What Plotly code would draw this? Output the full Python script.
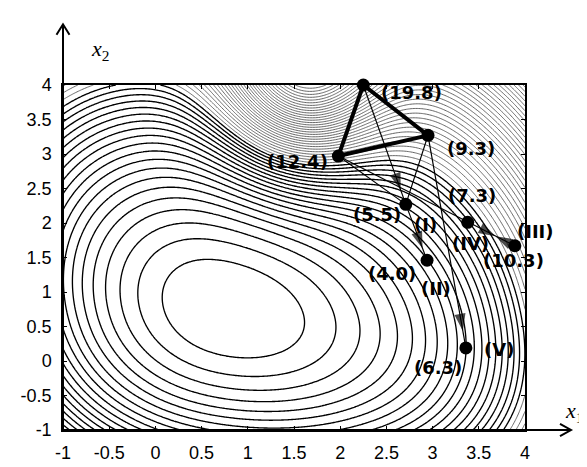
import numpy as np
import plotly.graph_objects as go

# ---------------- data ----------------
point_keys   = ["19.8", "12.4", "9.3", "5.5", "7.3", "10.3", "4.0", "6.3"]
point_x      = [2.25, 1.98, 2.95, 2.71, 3.38, 3.89, 2.94, 3.36]
point_y      = [4.00, 2.97, 3.27, 2.27, 2.01, 1.67, 1.46, 0.19]
point_labels = ["(19.8)", "(12.4)", "(9.3)", "(5.5)", "(7.3)", "(10.3)", "(4.0)", "(6.3)"]

simplex_thick = ["19.8", "12.4", "9.3", "19.8"]
thin_paths = [["19.8", "5.5"], ["12.4", "5.5"], ["9.3", "5.5"],
              ["12.4", "7.3", "10.3"], ["5.5", "4.0"], ["9.3", "6.3"]]
arrow_from = ["19.8", "5.5", "9.3", "7.3", "10.3"]
arrow_to   = ["5.5", "4.0", "6.3", "10.3", "7.3"]
arrow_frac = [0.88, 0.79, 0.92, 0.59, 0.41]

roman_text  = ["(I)", "(II)", "(III)", "(IV)", "(V)"]
roman_point = ["5.5", "4.0", "10.3", "7.3", "6.3"]

x_tickvals = [-1, -0.5, 0, 0.5, 1, 1.5, 2, 2.5, 3, 3.5, 4]
x_ticktext = ["-1", "-0.5", "0", "0.5", "1", "1.5", "2", "2.5", "3", "3.5", "4"]
y_tickvals = [-1, -0.5, 0, 0.5, 1, 1.5, 2, 2.5, 3, 3.5, 4]
y_ticktext = ["-1", "-0.5", "0", "0.5", "1", "1.5", "2", "2.5", "3", "3.5", "4"]

contour_step = 0.5
low_levels = (0.5, 10.0)     # drawn as solid black lines
high_levels = (10.5, 80.0)   # drawn lighter (scanned hatching look)

# objective-function parameters
CX, CY = 0.8, 0.75
AX, AY, AXY = 0.8, 0.95, 0.45
KL, KR, DR, KB = 0.275, 0.47, 1.5, 0.17
H, BX, BY, SX, SY = 14.0, 1.6, 4.2, 0.6, 0.9


def objective(u, v):
    dx = u - CX
    dy = v - CY
    base = AX * dx**2 + AY * dy**2 + AXY * dx * dy
    left = KL * np.maximum(-dx, 0) ** 3
    right = KR * np.maximum(dx - DR, 0) ** 3
    below = KB * np.maximum(-dy, 0) ** 3
    bump = H * np.exp(-(u - BX) ** 2 / (2 * SX**2) - (v - BY) ** 2 / (2 * SY**2))
    return base + left + right + below + bump


# ---------------- style ----------------
W_PX, H_PX = 587, 467
M_L, M_R, M_T, M_B = 55, 70, 77, 26
PLOT_W = W_PX - M_L - M_R
PLOT_H = H_PX - M_T - M_B

label_dx = {"19.8": 48, "12.4": -41, "9.3": 43, "5.5": -29, "7.3": 4,
            "10.3": -1, "4.0": -35, "6.3": -28}
label_dy = {"19.8": -7, "12.4": -5, "9.3": -13, "5.5": -10, "7.3": 27,
            "10.3": -15, "4.0": -13, "6.3": -20}
roman_dx = [20, 9, 21, 3, 33]
roman_dy = [-20, -28, 14, -21, -2]

P = {k: (x, y) for k, x, y in zip(point_keys, point_x, point_y)}

xg = np.linspace(-1, 4, 301)
yg = np.linspace(-1, 4, 301)
XX, YY = np.meshgrid(xg, yg)
Z = objective(XX, YY)

fig = go.Figure()
fig.add_trace(go.Contour(
    x=xg, y=yg, z=Z,
    contours=dict(start=high_levels[0], end=high_levels[1], size=contour_step, coloring="lines"),
    line=dict(width=0.9),
    colorscale=[[0, "#555555"], [1, "#555555"]],
    showscale=False, hoverinfo="skip",
))
fig.add_trace(go.Contour(
    x=xg, y=yg, z=Z,
    contours=dict(start=low_levels[0], end=low_levels[1], size=contour_step, coloring="lines"),
    line=dict(width=1.35),
    colorscale=[[0, "black"], [1, "black"]],
    showscale=False, hoverinfo="skip",
))

for path in thin_paths:
    fig.add_trace(go.Scatter(
        x=[P[k][0] for k in path], y=[P[k][1] for k in path],
        mode="lines", line=dict(color="black", width=1.2),
        showlegend=False, hoverinfo="skip"))

fig.add_trace(go.Scatter(
    x=[P[k][0] for k in simplex_thick], y=[P[k][1] for k in simplex_thick],
    mode="lines", line=dict(color="black", width=4),
    showlegend=False, hoverinfo="skip"))

for a, b, f in zip(arrow_from, arrow_to, arrow_frac):
    x0, y0 = P[a]
    x1, y1 = P[b]
    xt, yt = x0 + f * (x1 - x0), y0 + f * (y1 - y0)
    fig.add_trace(go.Scatter(
        x=[x0, xt], y=[y0, yt], mode="markers",
        marker=dict(symbol="arrow", size=[0, 18], angleref="previous", color="black",
                    line=dict(width=0)),
        showlegend=False, hoverinfo="skip", cliponaxis=False))

fig.add_trace(go.Scatter(
    x=point_x, y=point_y, mode="markers",
    marker=dict(symbol="circle", size=13, color="black"),
    showlegend=False, hoverinfo="skip", cliponaxis=False))

label_font = dict(family="DejaVu Sans", size=18, color="black", weight="bold")
annotations = []
for k, t in zip(point_keys, point_labels):
    annotations.append(dict(x=P[k][0], y=P[k][1], xref="x", yref="y", text=t,
                            showarrow=False, xshift=label_dx[k], yshift=label_dy[k],
                            font=label_font))
for t, k, sx, sy in zip(roman_text, roman_point, roman_dx, roman_dy):
    annotations.append(dict(x=P[k][0], y=P[k][1], xref="x", yref="y", text=t,
                            showarrow=False, xshift=sx, yshift=sy, font=label_font))

axis_font = dict(family="Liberation Serif", size=22, color="black")
annotations.append(dict(x=0.056, y=1.148, xref="paper", yref="paper",
                        text="<i>x</i><sub>2</sub>", showarrow=False, font=axis_font))
annotations.append(dict(x=1.13, y=0.0, xref="paper", yref="paper",
                        text="<i>x</i><sub>1</sub>", showarrow=False, font=axis_font,
                        yshift=2))

# axis arrows (lines + open chevron heads), in paper units
x_tip = 1 + 46 / PLOT_W
y_tip = 1 + 64 / PLOT_H
arm_back, arm_side = 11, 6.5
shapes = [
    dict(type="line", xref="paper", yref="paper", x0=0, y0=0, x1=x_tip, y1=0,
         line=dict(color="black", width=2)),
    dict(type="line", xref="paper", yref="paper", x0=0, y0=0, x1=0, y1=y_tip,
         line=dict(color="black", width=2)),
    dict(type="path", xref="paper", yref="paper",
         path=(f"M{x_tip - arm_back / PLOT_W},{arm_side / PLOT_H} L{x_tip},0 "
               f"L{x_tip - arm_back / PLOT_W},{-arm_side / PLOT_H}"),
         line=dict(color="black", width=2)),
    dict(type="path", xref="paper", yref="paper",
         path=(f"M{-arm_side / PLOT_W},{y_tip - arm_back / PLOT_H} L0,{y_tip} "
               f"L{arm_side / PLOT_W},{y_tip - arm_back / PLOT_H}"),
         line=dict(color="black", width=2)),
]

tick_font = dict(family="Liberation Sans", size=18, color="black")
axis_common = dict(range=[-1, 4], showgrid=False, zeroline=False, showline=True,
                   mirror="allticks", linecolor="black", linewidth=1.5,
                   ticks="inside", ticklen=4, tickcolor="black", tickwidth=1,
                   tickfont=tick_font, ticklabelstandoff=6)

fig.update_layout(
    width=W_PX, height=H_PX,
    margin=dict(l=M_L, r=M_R, t=M_T, b=M_B),
    paper_bgcolor="white", plot_bgcolor="white",
    xaxis=dict(tickvals=x_tickvals, ticktext=x_ticktext, **axis_common),
    yaxis=dict(tickvals=y_tickvals, ticktext=y_ticktext, **axis_common),
    annotations=annotations,
    shapes=shapes,
    showlegend=False,
)

fig.write_html("out.html")
